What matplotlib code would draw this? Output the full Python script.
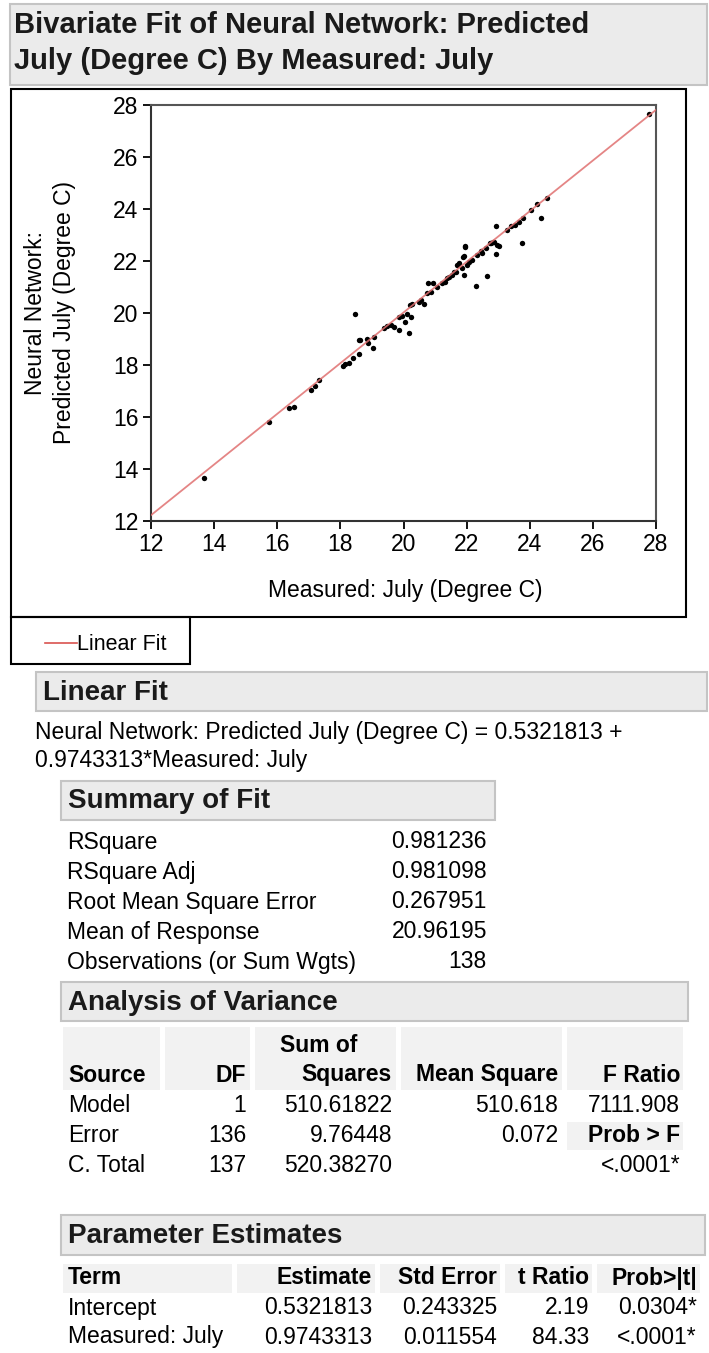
import matplotlib
matplotlib.use("Agg")
import matplotlib.pyplot as plt
from matplotlib.patches import Rectangle

plt.rcParams["font.family"] = ["Liberation Sans", "DejaVu Sans"]

# measured vs predicted July temperature
measured = [13.69, 15.75, 16.36, 16.52, 17.07, 17.21, 17.33, 18.07, 18.16, 18.27,
            18.40, 18.58, 18.58, 18.45, 18.61, 18.83, 18.88, 19.04, 19.06, 19.37,
            19.48, 19.59, 19.69, 19.87, 20.19, 19.85, 19.96, 20.10, 20.06, 20.25,
            20.22, 20.28, 20.49, 20.54, 20.65, 20.75, 20.77, 20.94, 20.86, 21.07,
            21.23, 21.39, 21.55, 21.65, 21.71, 21.76, 21.91, 21.86, 22.02, 22.18,
            22.34, 22.50, 22.60, 22.76, 22.87, 22.97, 21.94, 21.91, 22.92, 22.29,
            22.66, 21.94, 22.07, 22.44, 22.74, 22.85, 23.03, 22.92, 23.29, 23.40,
            23.52, 23.66, 23.80, 23.74, 24.05, 24.24, 24.56, 24.37, 27.79, 21.33,
            21.44, 21.60, 21.90]
predicted = [13.65, 15.80, 16.35, 16.40, 17.04, 17.20, 17.42, 17.97, 18.04, 18.09,
             18.26, 18.42, 18.96, 19.96, 18.96, 18.99, 18.86, 18.67, 19.09, 19.41,
             19.50, 19.54, 19.47, 19.35, 19.22, 19.83, 19.90, 19.96, 19.67, 19.83,
             20.31, 20.35, 20.43, 20.50, 20.35, 20.76, 21.14, 21.14, 20.82, 20.99,
             21.17, 21.33, 21.46, 21.59, 21.85, 21.91, 21.46, 21.72, 21.85, 22.04,
             22.23, 22.32, 22.49, 22.68, 22.74, 22.62, 22.58, 22.19, 22.27, 21.04,
             21.42, 22.55, 21.97, 22.40, 22.68, 22.74, 22.58, 23.36, 23.19, 23.35,
             23.38, 23.51, 23.64, 22.68, 23.96, 24.19, 24.43, 23.67, 27.65, 21.20,
             21.40, 21.59, 22.17]

intercept = 0.5321813
slope = 0.9743313

summary_labels = ["RSquare", "RSquare Adj", "Root Mean Square Error",
                  "Mean of Response", "Observations (or Sum Wgts)"]
summary_values = ["0.981236", "0.981098", "0.267951", "20.96195", "138"]

anova_source = ["Model", "Error", "C. Total"]
anova_df = ["1", "136", "137"]
anova_ss = ["510.61822", "9.76448", "520.38270"]
anova_ms = ["510.618", "0.072", ""]
anova_f = ["7111.908", "Prob > F", "<.0001*"]

param_terms = ["Intercept", "Measured: July"]
param_est = ["0.5321813", "0.9743313"]
param_se = ["0.243325", "0.011554"]
param_t = ["2.19", "84.33"]
param_p = ["0.0304*", "<.0001*"]

W, H = 709, 1353
fig = plt.figure(figsize=(W / 100, H / 100), dpi=100)
base = fig.add_axes([0, 0, 1, 1])
base.set_xlim(0, W)
base.set_ylim(H, 0)
base.axis("off")

FS = 16.5
HFS = 20


def header(x0, x1, y0, y1, text, fs=HFS):
    base.add_patch(Rectangle((x0, y0), x1 - x0, y1 - y0, facecolor="#ebebeb",
                             edgecolor="#c4c4c4", lw=1.5))
    base.text(x0 + 7, (y0 + y1) / 2 + 1, text, fontsize=fs, fontweight="bold",
              va="center", ha="left", color="#1a1a1a")


def cell(x0, x1, y0, y1):
    base.add_patch(Rectangle((x0, y0), x1 - x0, y1 - y0, facecolor="#f2f2f2",
                             edgecolor="none"))


# title box
base.add_patch(Rectangle((10, 4), 697, 81, facecolor="#ebebeb", edgecolor="#c4c4c4", lw=1.5))
base.text(14, 25, "Bivariate Fit of Neural Network: Predicted", fontsize=21,
          fontweight="bold", va="center", color="#1a1a1a")
base.text(14, 61, "July (Degree C) By Measured: July", fontsize=21,
          fontweight="bold", va="center", color="#1a1a1a")

# plot frame and legend box
base.add_patch(Rectangle((11, 89), 675, 528, facecolor="none", edgecolor="black", lw=1.5))
base.add_patch(Rectangle((11, 617), 179, 47, facecolor="none", edgecolor="black", lw=1.5))
base.plot([45, 77], [643, 643], color="#d9534f", lw=1.2)
base.text(77, 644, "Linear Fit", fontsize=FS - 1, va="center", ha="left")

# axis labels
base.text(36, 313, "Neural Network:", fontsize=FS, rotation=90, va="center", ha="center")
base.text(65, 313, "Predicted July (Degree C)", fontsize=FS, rotation=90, va="center", ha="center")
base.text(405, 590, "Measured: July (Degree C)", fontsize=FS, va="center", ha="center")

# scatter plot
ax = fig.add_axes([151 / W, 1 - 521 / H, 505 / W, 416 / H])
ax.scatter(measured, predicted, s=15, color="black", zorder=2, linewidths=0)
ax.plot([12, 28], [intercept + slope * 12, intercept + slope * 28],
        color="#e07070", lw=1.3, alpha=0.85, zorder=3)
ax.set_xlim(12, 28)
ax.set_ylim(12, 28)
ax.set_xticks(range(12, 29, 2))
ax.set_yticks(range(12, 29, 2))
ax.tick_params(direction="out", length=6, width=1.3, labelsize=FS, pad=3)
for side in ["left", "bottom"]:
    ax.spines[side].set_linewidth(1.5)
    ax.spines[side].set_color("#333333")
for side in ["top", "right"]:
    ax.spines[side].set_linewidth(1.5)
    ax.spines[side].set_color("#555555")

# Linear Fit section
header(36, 707, 672, 711, "Linear Fit")
base.text(35, 733, "Neural Network: Predicted July (Degree C) = 0.5321813 +", fontsize=FS, va="center")
base.text(35, 760, "0.9743313*Measured: July", fontsize=FS, va="center")

# Summary of Fit
header(61, 495, 781, 820, "Summary of Fit")
for i, (lab, val) in enumerate(zip(summary_labels, summary_values)):
    y = 842 + i * 30
    base.text(67, y, lab, fontsize=FS, va="center")
    base.text(487, y, val, fontsize=FS, va="center", ha="right")

# Analysis of Variance
header(61, 688, 982, 1021, "Analysis of Variance")
for x0, x1 in [(63, 160), (165, 250), (255, 396), (401, 562), (567, 683)]:
    cell(x0, x1, 1027, 1090)
cell(567, 683, 1122, 1150)
base.text(319, 1046, "Sum of", fontsize=FS, fontweight="bold", va="center", ha="center")
hdr = [("Source", 68, "left"), ("DF", 246, "right"), ("Squares", 392, "right"),
       ("Mean Square", 558, "right"), ("F Ratio", 680, "right")]
for t, x, ha in hdr:
    base.text(x, 1075, t, fontsize=FS, fontweight="bold", va="center", ha=ha)
for i in range(3):
    y = 1106 + i * 30
    base.text(68, y, anova_source[i], fontsize=FS, va="center")
    base.text(246, y, anova_df[i], fontsize=FS, va="center", ha="right")
    base.text(392, y, anova_ss[i], fontsize=FS, va="center", ha="right")
    base.text(558, y, anova_ms[i], fontsize=FS, va="center", ha="right")
    bold = "bold" if anova_f[i] == "Prob > F" else "normal"
    base.text(680, y, anova_f[i], fontsize=FS, va="center", ha="right", fontweight=bold)

# Parameter Estimates
header(61, 705, 1215, 1255, "Parameter Estimates")
for x0, x1 in [(63, 232), (237, 375), (380, 500), (505, 592), (597, 700)]:
    cell(x0, x1, 1264, 1293)
cols = [("Term", 68, "left"), ("Estimate", 372, "right"), ("Std Error", 497, "right"),
        ("t Ratio", 589, "right"), ("Prob>|t|", 697, "right")]
for t, x, ha in cols:
    base.text(x, 1278, t, fontsize=FS, fontweight="bold", va="center", ha=ha)
for i in range(2):
    y = 1308 + i * 29
    row = [param_terms[i], param_est[i], param_se[i], param_t[i], param_p[i]]
    for (t, x, ha), v in zip(cols, row):
        base.text(x, y, v, fontsize=FS, va="center", ha=ha)

fig.savefig("out.png", dpi=100)
